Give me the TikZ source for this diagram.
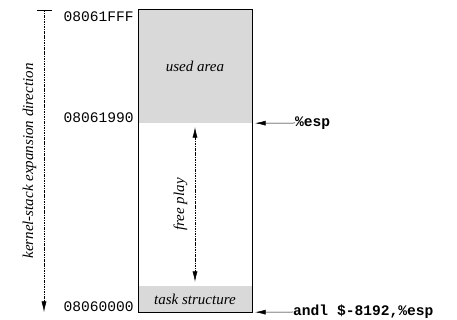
\documentclass[tikz,border=0pt]{standalone}
\usepackage{fontspec}
\setmainfont{Liberation Serif}
\setmonofont{Liberation Mono}
\usetikzlibrary{arrows.meta}

\tikzset{
    area/.style={shape=rectangle,fill=black!15,minimum width=114pt,inner sep=0pt,font=\fontsize{15}{18}\selectfont\itshape},
    addr/.style={inner sep=0pt,font=\fontsize{14.6}{17}\selectfont\ttfamily},
    instr/.style={inner sep=0pt,font=\fontsize{14.6}{17}\selectfont\ttfamily\bfseries},
    dashdot/.style={line width=0.5pt,dash pattern=on 2.5pt off 1pt on 0.8pt off 1pt},
}

\begin{document}
\begin{tikzpicture}[x=1pt,y=1pt,>={Latex[length=10.5pt,width=5pt]}]
    \useasboundingbox (0,0) rectangle (457,320);
    \node[area,minimum height=113pt] (used) at (195,253.5) {used area};
    \node[area,minimum height=26pt] (task) at (195,21) {task structure};
    \draw[line width=0.6pt] (used.north west) rectangle (task.south east);
    % addresses
    \node[addr,anchor=base east] (top) at ([xshift=-4pt,yshift=-12pt]used.north west) {08061FFF};
    \node[addr,anchor=base east] (mid) at ([xshift=-4pt,yshift=1pt]used.south west) {08061990};
    \node[addr,anchor=base east] (bot) at ([xshift=-4pt,yshift=1pt]task.south west) {08060000};
    % stack pointer
    \node[instr,anchor=west] (esp) at (295,197) {\%esp};
    \node[instr,anchor=west] (andl) at (293,8) {andl \$-8192,\%esp};
    \path[->,line width=0.5pt] (esp.west) edge ([xshift=3pt]used.south east);
    \path[->,line width=0.5pt] (andl.west) edge ([xshift=3pt]task.south east);
    % free play
    \path[<->,dashdot] ([yshift=-4pt]used.south) edge node[rotate=90,above=4pt,font=\fontsize{15}{18}\selectfont\itshape] (free) {free play} ([yshift=4pt]task.north);
    % expansion direction
    \coordinate (kstart) at (44,310);
    \coordinate (kend) at (44,8);
    \draw[line width=0.5pt] ([xshift=-7pt]kstart) -- ([xshift=8pt]kstart);
    \path[->,dashdot] (kstart) edge node[rotate=90,above=4pt,font=\fontsize{15}{18}\selectfont\itshape] (dir) {kernel-stack expansion direction} (kend);
\end{tikzpicture}
\end{document}
